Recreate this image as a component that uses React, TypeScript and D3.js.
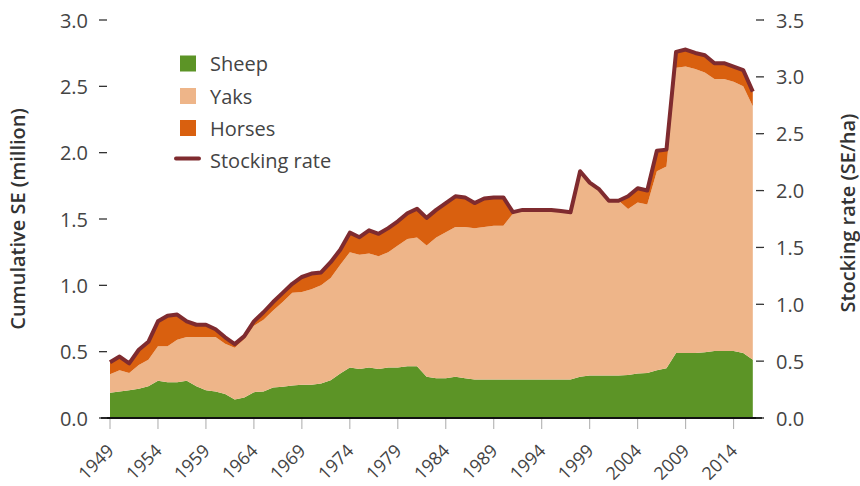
import * as d3 from "d3";
import { useMemo } from "react";

const years = d3.range(1949, 2017);

const sheep = [
  0.19, 0.2, 0.21, 0.22, 0.24, 0.28, 0.27, 0.27, 0.28, 0.24, 0.21, 0.2, 0.18, 0.14, 0.155, 0.195,
  0.2, 0.23, 0.235, 0.245, 0.25, 0.25, 0.26, 0.285, 0.335, 0.38, 0.37, 0.38, 0.37, 0.38, 0.38, 0.39,
  0.39, 0.31, 0.3, 0.3, 0.31, 0.3, 0.29, 0.29, 0.29, 0.29, 0.29, 0.29, 0.29, 0.29, 0.29, 0.29,
  0.29, 0.31, 0.32, 0.32, 0.32, 0.32, 0.325, 0.335, 0.34, 0.36, 0.375, 0.49, 0.49, 0.49, 0.495, 0.505,
  0.505, 0.505, 0.49, 0.44,
];

const yaks = [
  0.14, 0.16, 0.13, 0.18, 0.2, 0.26, 0.27, 0.32, 0.33, 0.37, 0.4, 0.41, 0.38, 0.39, 0.44, 0.5,
  0.54, 0.58, 0.64, 0.7, 0.7, 0.72, 0.74, 0.77, 0.82, 0.87, 0.86, 0.86, 0.85, 0.87, 0.92, 0.96,
  0.97, 0.99, 1.06, 1.1, 1.13, 1.14, 1.14, 1.15, 1.16, 1.16, 1.25, 1.27, 1.27, 1.27, 1.27, 1.26,
  1.26, 1.54, 1.44, 1.39, 1.32, 1.32, 1.25, 1.29, 1.27, 1.5, 1.52, 2.15, 2.16, 2.14, 2.11, 2.05,
  2.05, 2.03, 2.01, 1.91,
];

const horses = [
  0.09, 0.1, 0.07, 0.11, 0.14, 0.19, 0.24, 0.19, 0.12, 0.1, 0.09, 0.06, 0.05, 0.04, 0.03, 0.04,
  0.06, 0.07, 0.07, 0.07, 0.11, 0.12, 0.1, 0.12, 0.12, 0.15, 0.14, 0.17, 0.17, 0.18, 0.18, 0.19,
  0.22, 0.21, 0.21, 0.22, 0.23, 0.22, 0.19, 0.21, 0.22, 0.21, 0.01, 0.01, 0.01, 0.01, 0.01, 0.01,
  0.01, 0.01, 0.01, 0.01, 0.01, 0.01, 0.1, 0.11, 0.1, 0.15, 0.14, 0.12, 0.13, 0.12, 0.13, 0.12,
  0.12, 0.12, 0.12, 0.11,
];

// stocking rate, SE/ha (right axis)
const stocking = [
  0.49, 0.54, 0.48, 0.6, 0.67, 0.85, 0.9, 0.91, 0.85, 0.82, 0.82, 0.78, 0.71, 0.65, 0.72, 0.85,
  0.93, 1.02, 1.1, 1.18, 1.24, 1.27, 1.28, 1.37, 1.48, 1.63, 1.59, 1.65, 1.62, 1.67, 1.73, 1.8,
  1.84, 1.76, 1.83, 1.89, 1.95, 1.94, 1.89, 1.93, 1.94, 1.94, 1.81, 1.83, 1.83, 1.83, 1.83, 1.82,
  1.81, 2.17, 2.07, 2.01, 1.91, 1.91, 1.95, 2.02, 2.0, 2.35, 2.36, 3.22, 3.24, 3.21, 3.19, 3.12,
  3.12, 3.09, 3.06, 2.87,
];

const leftTicks = [0, 0.5, 1, 1.5, 2, 2.5, 3];
const rightTicks = [0, 0.5, 1, 1.5, 2, 2.5, 3, 3.5];
const yearTicks = d3.range(1949, 2017, 5);

const seriesNames = ["Sheep", "Yaks", "Horses"];
const colors: Record<string, string> = {
  Sheep: "#5c9426",
  Yaks: "#eeb589",
  Horses: "#d9600f",
};
const lineColor = "#7f2b2f";
const textColor = "#444";
const font = "'Open Sans', 'Noto Sans', sans-serif";

export default function App() {
  const width = 860;
  const height = 486;
  const plotTop = 20;
  const plotBottom = 418;
  const plotLeft = 110;
  const plotRight = 752.8;

  const x = d3.scaleLinear().domain([1949, 2016]).range([plotLeft, plotRight]);
  const yL = d3.scaleLinear().domain([0, 3]).range([plotBottom, plotTop]);
  const yR = d3.scaleLinear().domain([0, 3.5]).range([plotBottom, plotTop]);

  const stacked = useMemo(() => {
    const rows = years.map((yr, i) => ({
      year: yr,
      Sheep: sheep[i],
      Yaks: yaks[i],
      Horses: horses[i],
    }));
    return d3.stack<any>().keys(seriesNames)(rows);
  }, []);

  const area = d3
    .area<any>()
    .x((d) => x(d.data.year))
    .y0((d) => yL(d[0]))
    .y1((d) => yL(d[1]));

  const line = d3
    .line<number>()
    .x((_, i) => x(years[i]))
    .y((d) => yR(d));

  const legend = [
    { name: "Sheep", y: 63.5 },
    { name: "Yaks", y: 96 },
    { name: "Horses", y: 128 },
  ];

  return (
    <svg
      width={width}
      height={height}
      style={{ position: "absolute", left: 0, top: 0, background: "#fff" }}
      fontFamily={font}
    >
      {stacked.map((s) => (
        <path key={s.key} d={area(s) ?? ""} fill={colors[s.key]} />
      ))}
      <path
        d={line(stocking) ?? ""}
        fill="none"
        stroke={lineColor}
        strokeWidth={4}
        strokeLinejoin="round"
      />

      {/* x axis */}
      {yearTicks.map((t) => (
        <g key={t}>
          <line x1={x(t)} x2={x(t)} y1={plotBottom} y2={plotBottom + 11} stroke="#aaa" strokeWidth={1} />
          <text
            transform={`translate(${x(t) + 5},${plotBottom + 34}) rotate(-45)`}
            textAnchor="end"
            fontSize={18}
            fill={textColor}
          >
            {t}
          </text>
        </g>
      ))}
      <line x1={101} x2={762} y1={plotBottom} y2={plotBottom} stroke="#111" strokeWidth={2} />

      {/* left axis */}
      {leftTicks.map((t) => (
        <g key={t}>
          <line x1={99} x2={107} y1={yL(t)} y2={yL(t)} stroke="#333" strokeWidth={1.3} />
          <text x={88} y={yL(t)} textAnchor="end" dominantBaseline="central" fontSize={20} fill={textColor}>
            {t.toFixed(1)}
          </text>
        </g>
      ))}
      <text
        transform={`translate(17,${(plotTop + plotBottom) / 2}) rotate(-90)`}
        textAnchor="middle"
        dominantBaseline="central"
        fontSize={20}
        fontWeight={600}
        fill="#333"
      >
        Cumulative SE (million)
      </text>

      {/* right axis */}
      {rightTicks.map((t) => (
        <g key={t}>
          <line x1={756} x2={764} y1={yR(t)} y2={yR(t)} stroke="#333" strokeWidth={1.3} />
          <text x={776} y={yR(t)} textAnchor="start" dominantBaseline="central" fontSize={20} fill={textColor}>
            {t.toFixed(1)}
          </text>
        </g>
      ))}
      <text
        transform={`translate(847,${(plotTop + plotBottom) / 2 - 6}) rotate(-90)`}
        textAnchor="middle"
        dominantBaseline="central"
        fontSize={20}
        fontWeight={600}
        fill="#333"
      >
        Stocking rate (SE/ha)
      </text>

      {/* legend */}
      {legend.map((l) => (
        <g key={l.name}>
          <rect x={180} y={l.y - 8} width={16} height={16} fill={colors[l.name]} />
          <text x={210} y={l.y} dominantBaseline="central" fontSize={20} fill={textColor}>
            {l.name}
          </text>
        </g>
      ))}
      <line x1={176} x2={199} y1={158.5} y2={158.5} stroke={lineColor} strokeWidth={4} strokeLinecap="round" />
      <text x={210} y={160} dominantBaseline="central" fontSize={20} fill={textColor}>
        Stocking rate
      </text>
    </svg>
  );
}
